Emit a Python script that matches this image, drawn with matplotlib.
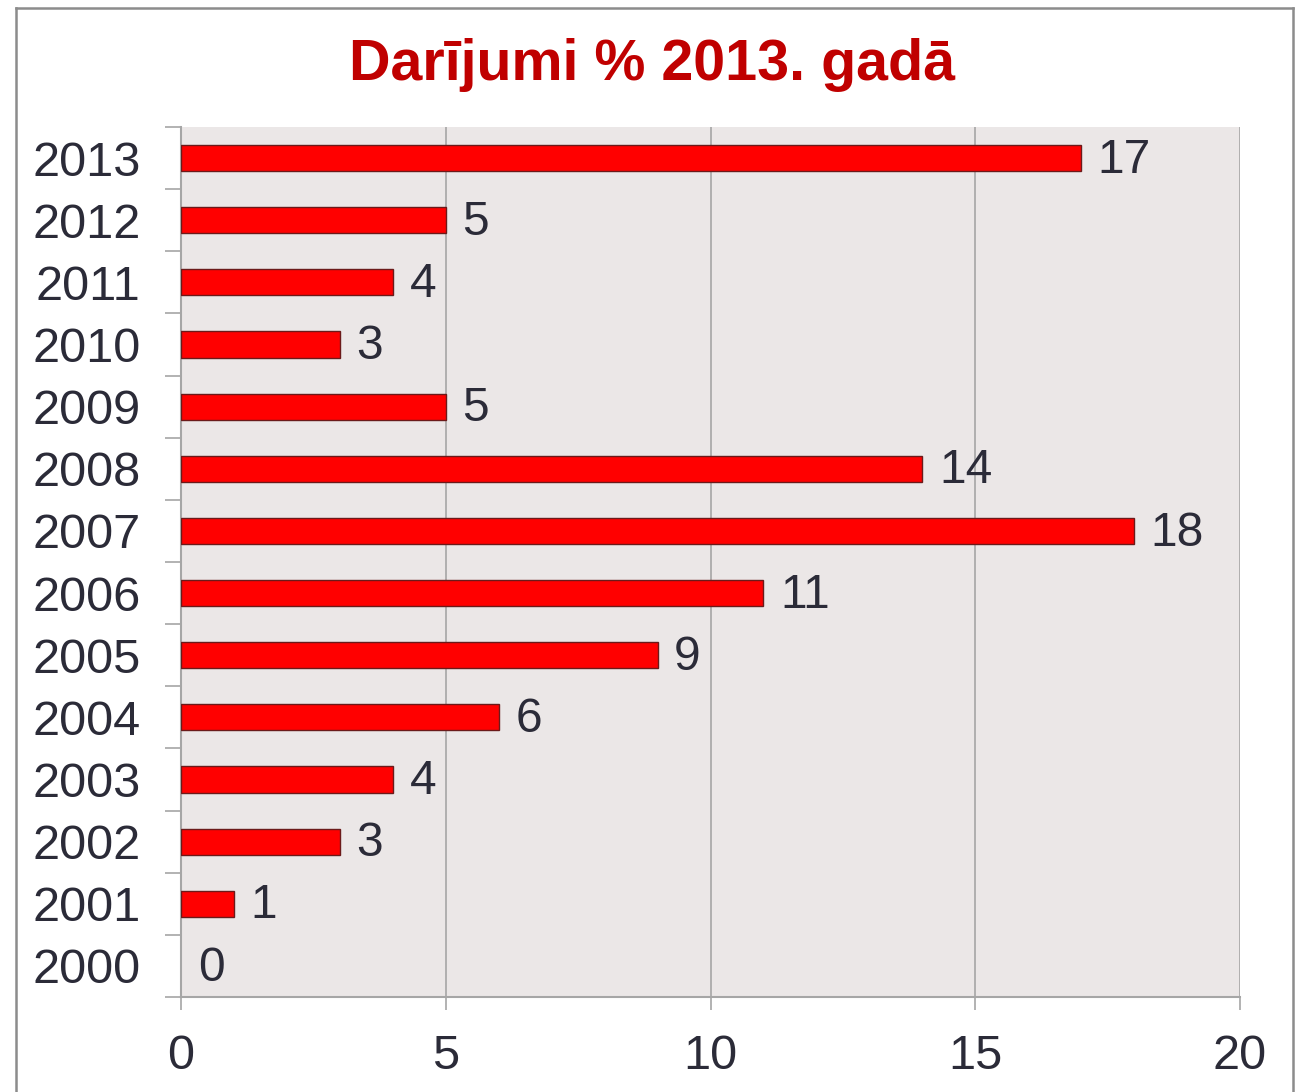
import matplotlib
matplotlib.use("Agg")
import matplotlib.pyplot as plt
from matplotlib.lines import Line2D
import numpy as np

years = ["2000", "2001", "2002", "2003", "2004", "2005", "2006",
         "2007", "2008", "2009", "2010", "2011", "2012", "2013"]
values = [0, 1, 3, 4, 6, 9, 11, 18, 14, 5, 3, 4, 5, 17]
xticks = [0, 5, 10, 15, 20]
title = "Darījumi % 2013. gadā"

plt.rcParams['font.family'] = ['Liberation Sans', 'DejaVu Sans']
txt = "#2b2b38"
gridc = "#a6a6a6"

fig = plt.figure(figsize=(12.95, 10.92), dpi=100)
ax = fig.add_axes([181/1295, 1-997/1092, (1240-181)/1295, (997-127)/1092])
ax.set_facecolor("#ebe7e7")

y = np.arange(len(years))
lws = [1.0 if v > 0 else 0 for v in values]
ax.barh(y, values, height=0.42, color="#ff0000", edgecolor="#6b1a1a", linewidth=lws, zorder=3)
for yi, v in zip(y, values):
    ax.annotate(str(v), (v, yi), xytext=(12, -1.5), textcoords="offset points",
                ha="left", va="center", fontsize=34.5, color=txt, zorder=4)

ax.set_xlim(0, 20)
ax.set_ylim(-0.5, len(years) - 0.5)
ax.set_xticks(xticks)
ax.set_xticklabels([str(t) for t in xticks])
ax.set_yticks(y)
ax.set_yticklabels(years)
ax.set_yticks(np.arange(-0.5, len(years), 1.0), minor=True)
ax.tick_params(axis='y', which='major', length=0, pad=29, labelsize=35, labelcolor=txt)
ax.tick_params(axis='y', which='minor', length=11.5, width=1.2, color=gridc)
ax.tick_params(axis='x', which='major', length=9.5, width=1.2, color=gridc, pad=17,
               labelsize=35, labelcolor=txt)
ax.grid(axis='x', color=gridc, linewidth=1.2, zorder=1)
ax.set_axisbelow(True)
for s in ["top", "right"]:
    ax.spines[s].set_visible(False)
for s in ["left", "bottom"]:
    ax.spines[s].set_color(gridc)
    ax.spines[s].set_linewidth(1.5)

fig.text(0.5035, 1-65/1092, title, ha="center", va="center", fontsize=41.3,
         fontweight="bold", color="#c00000")

# outer frame
bc = "#8c8c8c"
L, R, T = 15.5/1295, 1293/1295, 1-7.5/1092
fig.add_artist(Line2D([L, L], [0, T], color=bc, linewidth=1.8, transform=fig.transFigure))
fig.add_artist(Line2D([L, R], [T, T], color=bc, linewidth=1.8, transform=fig.transFigure))
fig.add_artist(Line2D([R, R], [0, T], color=bc, linewidth=1.8, transform=fig.transFigure))

fig.savefig("out.png", dpi=100)
